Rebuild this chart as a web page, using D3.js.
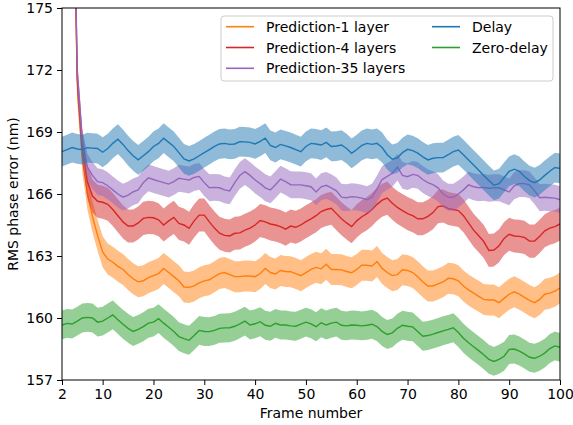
<!DOCTYPE html>
<html>
<head>
<meta charset="utf-8">
<script src="https://cdn.jsdelivr.net/npm/d3@7"></script>
<style>
  html, body { margin: 0; padding: 0; background: #fff; }
  svg { display: block; font-family: "DejaVu Sans", sans-serif; }
</style>
</head>
<body>
<svg id="chart" width="573" height="425"></svg>
<script>
// ---------- data ----------
const frames = d3.range(2, 101); // 2..100

const pred1 = [205,195,185.5,171.3,167.8,166.0,164.9,164.0,163.2,162.85,162.7,162.5,162.35,162.1,161.9,161.75,161.8,161.95,162.05,162.15,162.4,162.2,162.0,161.8,161.5,161.48,161.55,161.7,161.8,161.85,162.0,162.15,162.2,162.1,162.0,162.0,162.03,162.03,162.0,162.15,162.4,162.2,162.13,162.3,162.25,162.24,162.15,162.05,162.2,162.35,162.45,162.38,162.6,162.35,162.35,162.33,162.25,162.19,162.35,162.55,162.55,162.52,162.73,162.4,162.2,162.05,162.1,162.33,162.3,162.2,162.0,161.75,161.55,161.55,161.65,161.75,161.92,161.9,161.8,161.55,161.36,161.2,161.05,160.9,160.87,160.87,160.74,160.95,161.15,161.27,161.15,161.0,160.85,160.74,160.9,161.15,161.2,161.3,161.45];

const pred4 = [205,195,185.5,171.6,168.3,166.6,165.9,165.65,165.6,165.5,165.25,164.95,164.65,164.45,164.45,164.6,164.82,164.87,164.85,164.75,164.5,164.7,164.87,164.58,164.5,164.34,164.7,164.98,164.98,164.65,164.35,164.1,164.0,163.97,164.1,164.12,164.25,164.35,164.5,164.72,164.65,164.55,164.5,164.42,164.3,164.45,164.39,164.5,164.66,164.8,164.95,165.15,165.25,165.31,165.05,164.8,164.6,164.42,164.7,164.9,165.05,165.25,165.5,165.7,165.8,165.55,165.35,165.2,165.05,164.95,164.8,164.8,164.92,165.1,165.39,165.42,165.3,165.25,165.2,164.95,164.6,164.25,163.98,163.7,163.27,163.29,163.5,163.85,164.05,163.97,163.95,163.9,163.72,163.72,163.95,164.22,164.35,164.42,164.55];

const pred35 = [205,195,185.5,171.9,168.5,167.3,166.9,166.6,166.55,166.4,166.2,166.0,165.85,165.95,166.1,166.2,166.55,166.78,166.7,166.62,166.55,166.48,166.6,166.76,166.72,166.68,166.8,166.85,166.55,166.3,166.32,166.3,166.2,166.15,166.55,166.9,167.08,166.9,166.68,166.5,166.3,166.2,166.45,166.72,166.6,166.45,166.44,166.44,166.4,166.35,166.1,166.35,166.42,166.3,166.15,165.85,165.82,165.87,165.85,165.8,165.72,165.85,166.25,166.7,166.85,167.0,167.3,166.9,166.84,166.95,166.9,166.7,166.55,166.45,166.3,166.0,165.84,165.84,166.0,166.2,166.44,166.35,166.3,166.32,166.28,166.3,166.3,166.2,166.1,166.4,166.5,166.5,166.44,166.15,165.82,165.84,165.82,165.8,165.72];

const delay = [168.05,168.15,168.25,168.18,168.15,168.24,168.22,168.2,168.02,168.2,168.45,168.65,168.4,168.1,167.85,167.65,167.85,168.05,168.3,168.45,168.7,168.5,168.3,168.0,167.7,167.6,167.7,167.85,168.0,168.15,168.3,168.42,168.45,168.4,168.42,168.53,168.52,168.5,168.42,168.55,168.7,168.35,168.25,168.4,168.33,168.25,168.15,168.05,168.3,168.45,168.42,168.37,168.5,168.3,168.32,168.37,168.2,167.97,168.15,168.35,168.45,168.4,168.45,168.25,167.9,167.68,167.75,168.0,168.16,168.1,167.98,167.8,167.65,167.73,167.76,167.76,167.9,168.05,168.13,167.9,167.65,167.4,167.15,166.9,166.65,166.42,166.5,166.8,167.1,167.2,167.1,166.85,166.65,166.55,166.68,166.9,167.1,167.28,167.24];

const zeroDelay = [159.66,159.74,159.71,159.85,160.0,160.03,160.0,159.8,159.85,160.0,160.15,159.92,159.7,159.5,159.35,159.45,159.58,159.75,159.8,159.97,159.75,159.55,159.35,159.1,159.0,158.92,159.15,159.4,159.35,159.34,159.4,159.5,159.52,159.53,159.6,159.72,159.85,159.66,159.72,159.82,159.65,159.6,159.74,159.66,159.66,159.62,159.6,159.7,159.8,159.72,159.58,159.77,159.66,159.75,159.8,159.65,159.62,159.66,159.65,159.62,159.65,159.7,159.58,159.35,159.2,159.28,159.5,159.65,159.6,159.57,159.35,159.12,159.15,159.22,159.3,159.38,159.45,159.53,159.3,159.02,158.8,158.61,158.42,158.22,158.0,157.9,158.0,158.15,158.48,158.5,158.4,158.26,158.1,158.05,158.15,158.3,158.52,158.65,158.58];

const seriesNames = ["Prediction-1 layer", "Prediction-4 layers", "Prediction-35 layers", "Delay", "Zero-delay"];
const seriesValues = [pred1, pred4, pred35, delay, zeroDelay];
const bandHalfWidth = [0.75, 0.8, 0.65, 0.72, 0.7];
const seriesColors = ["#ff7f0e", "#d62728", "#9467bd", "#1f77b4", "#2ca02c"];

const xTicks = [2, 10, 20, 30, 40, 50, 60, 70, 80, 90, 100];
const yTicks = [157, 160, 163, 166, 169, 172, 175];

// ---------- layout ----------
const svg = d3.select("#chart");
const L = 62, R = 560, T = 8, B = 380;
const x = d3.scaleLinear().domain([2, 100]).range([L, R]);
const y = d3.scaleLinear().domain([157, 175]).range([B, T]);

svg.append("defs").append("clipPath").attr("id", "plotclip")
  .append("rect").attr("x", L).attr("y", T).attr("width", R - L).attr("height", B - T);

const plot = svg.append("g").attr("clip-path", "url(#plotclip)");

const area = d3.area()
  .x(d => x(d.f))
  .y0(d => y(d.v - d.h))
  .y1(d => y(d.v + d.h));
const line = d3.line().x(d => x(d.f)).y(d => y(d.v));

seriesValues.forEach((vals, i) => {
  const pts = frames.map((f, k) => ({ f: f, v: vals[k], h: bandHalfWidth[i] }));
  plot.append("path").datum(pts)
    .attr("d", area)
    .attr("fill", seriesColors[i])
    .attr("fill-opacity", 0.5)
    .attr("stroke", "none");
  plot.append("path").datum(pts)
    .attr("d", line)
    .attr("fill", "none")
    .attr("stroke", seriesColors[i])
    .attr("stroke-width", 1.4);
});

// ---------- axes ----------
const fontSize = 14;
const xAxis = d3.axisBottom(x).tickValues(xTicks).tickFormat(d3.format("d")).tickSize(5).tickPadding(4);
const yAxis = d3.axisLeft(y).tickValues(yTicks).tickFormat(d3.format("d")).tickSize(5).tickPadding(4);

const gx = svg.append("g").attr("transform", `translate(0,${B})`).call(xAxis);
const gy = svg.append("g").attr("transform", `translate(${L},0)`).call(yAxis);
[gx, gy].forEach(g => {
  g.select(".domain").remove();
  g.selectAll(".tick line").attr("stroke", "#000").attr("stroke-width", 1);
  g.selectAll(".tick text").attr("font-size", fontSize).attr("font-family", "DejaVu Sans").attr("fill", "#000");
});

// spines
svg.append("rect")
  .attr("x", L).attr("y", T).attr("width", R - L).attr("height", B - T)
  .attr("fill", "none").attr("stroke", "#000").attr("stroke-width", 1);

// axis labels
svg.append("text")
  .attr("x", (L + R) / 2).attr("y", 418)
  .attr("text-anchor", "middle").attr("font-size", fontSize)
  .text("Frame number");
svg.append("text")
  .attr("transform", `translate(18,${(T + B) / 2}) rotate(-90)`)
  .attr("text-anchor", "middle").attr("font-size", fontSize)
  .text("RMS phase error (nm)");

// ---------- legend ----------
const lg = svg.append("g");
lg.append("rect")
  .attr("x", 221).attr("y", 16).attr("width", 332).attr("height", 65)
  .attr("rx", 3).attr("ry", 3)
  .attr("fill", "#fff").attr("fill-opacity", 0.8)
  .attr("stroke", "#cccccc").attr("stroke-width", 1);
const colX = [226, 432];
const rowY = [26.7, 47.5, 68.3];
seriesNames.forEach((name, i) => {
  const col = i < 3 ? 0 : 1;
  const row = i < 3 ? i : i - 3;
  const lx = colX[col], ly = rowY[row];
  lg.append("line")
    .attr("x1", lx).attr("x2", lx + 28).attr("y1", ly).attr("y2", ly)
    .attr("stroke", seriesColors[i]).attr("stroke-width", 1.6);
  lg.append("text")
    .attr("x", lx + 40).attr("y", ly + 5)
    .attr("font-size", fontSize)
    .text(name);
});
</script>
</body>
</html>
